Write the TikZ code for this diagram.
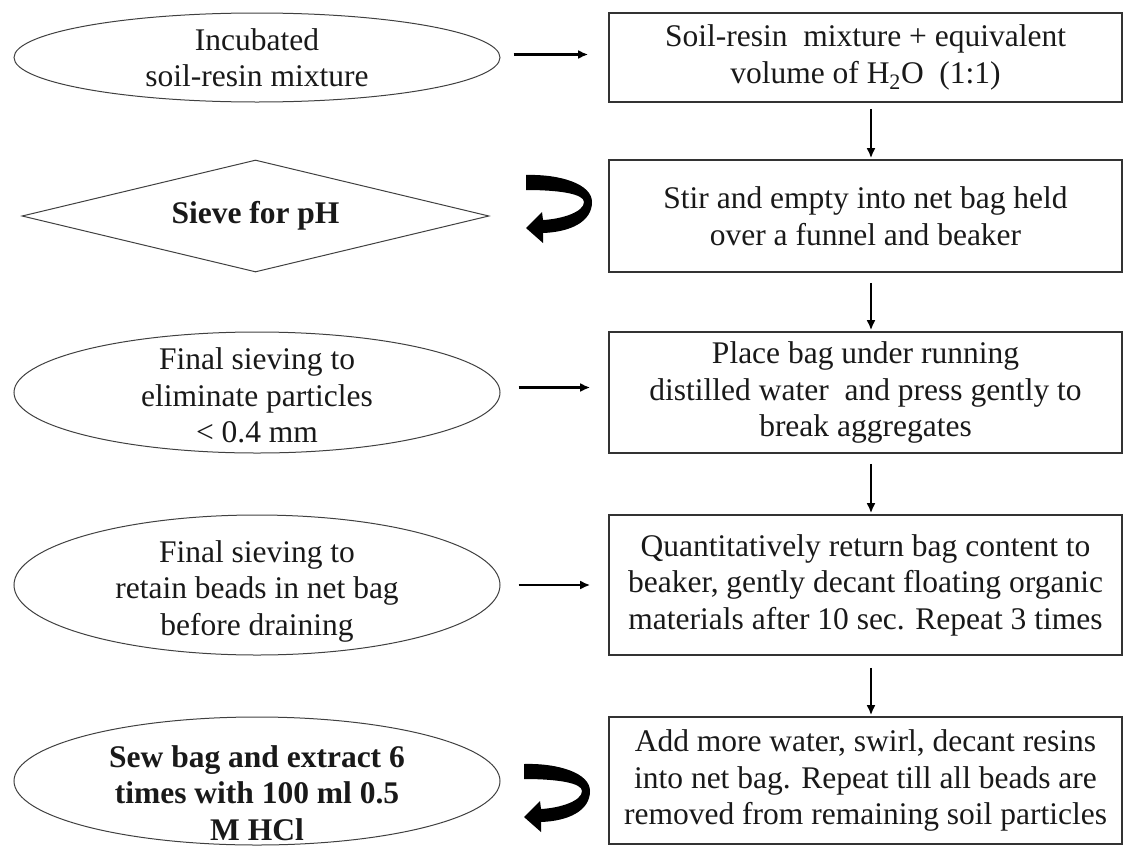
\documentclass[tikz,border=0pt]{standalone}
\usepackage{fontspec}
\setmainfont{Liberation Serif}
\usetikzlibrary{shapes.geometric,arrows.meta}
\begin{document}
\begin{tikzpicture}[x=1pt,y=-1pt,
  every node/.style={font=\fontsize{31.5}{36.5}\selectfont, align=center, text=black!90},
  oval/.style={ellipse, draw=black!75, line width=1pt, minimum width=486pt, inner sep=0pt},
  stepbox/.style={rectangle, draw=black!80, line width=1.6pt, minimum width=513pt, inner sep=0pt},
  rhomb/.style={diamond, draw=black!75, line width=1pt, inner sep=0pt, minimum width=467pt, minimum height=112pt},
  lbl/.style={inner sep=0pt},
  arr/.style={line width=2.4pt, -{Latex[length=10pt,width=9pt]}},
  turn/.style={fill=black}
]
\useasboundingbox (0,0) rectangle (1124,846);

% left column shapes
\node[oval, minimum height=89pt]  (e1) at (257,57.5) {};
\node[lbl] (t1) at (e1) {Incubated\\soil-resin mixture};
\node[rhomb] (d2) at (255.5,216) {};
\node[lbl] (t2) at (d2) {\bfseries Sieve for pH};
\node[oval, minimum height=121pt] (e3) at (257,392.5) {};
\node[lbl] (t3) at ([yshift=-3pt]e3.center) {Final sieving to\\eliminate particles\\< 0.4 mm};
\node[oval, minimum height=140pt] (e4) at (257,585) {};
\node[lbl] (t4) at ([yshift=-6pt]e4.center) {Final sieving to\\retain beads in net bag\\before draining};
\node[oval, minimum height=128pt] (e5) at (257,781) {};
\node[lbl] (t5) at ([yshift=-12pt]e5.center) {\bfseries Sew bag and extract 6\\\bfseries times with 100 ml 0.5\\\bfseries M HCl};

% right column boxes
\node[stepbox, minimum height=89pt]  (b1) at (865.5,57.5) {Soil-resin\ \ mixture + equivalent\\volume of H\textsubscript{2}O\ \ (1:1)};
\node[stepbox, minimum height=112pt] (b2) at (865.5,216) {Stir and empty into net bag held\\over a funnel and beaker};
\node[stepbox, minimum height=121pt] (b3) at (865.5,392.5) {Place bag under running\\distilled water\ \ and press gently to\\break aggregates};
\node[stepbox, minimum height=140pt] (b4) at (865.5,585) {Quantitatively return bag content to\\beaker, gently decant floating organic\\materials after 10 sec. Repeat 3 times};
\node[stepbox, minimum height=127pt] (b5) at (865.5,780.5) {Add more water, swirl, decant resins\\into net bag. Repeat till all beads are\\removed from remaining soil particles};

% horizontal arrows
\draw[arr] ([shift={(13,-3)}]e1.east) -- ([shift={(-20,-3)}]b1.west);
\draw[arr] ([shift={(18,-5)}]e3.east) -- ([shift={(-18,-5)}]b3.west);
\draw[arr] ([shift={(18,0)}]e4.east) -- ([shift={(-18,0)}]b4.west);

% vertical arrows
\draw[arr] ([shift={(5.5,6)}]b1.south) -- ([shift={(5.5,-1)}]b2.north);
\draw[arr] ([shift={(5.5,10)}]b2.south) -- ([shift={(5.5,-1)}]b3.north);
\draw[arr] ([shift={(5.5,10)}]b3.south) -- ([shift={(5.5,-1)}]b4.north);
\draw[arr] ([shift={(5.5,12)}]b4.south) -- ([shift={(5.5,-1)}]b5.north);

% curved arrows
\foreach \ox/\oy in {500/160, 498/749}{
  \path[turn, shift={(\ox,\oy)}]
    (26,15) .. controls (60,14) and (92,24) .. (92,42)
    .. controls (92,62) and (70,72) .. (43,73)
    -- (43,83) -- (26,68) -- (42,52) -- (43,60)
    .. controls (62,59) and (84,52) .. (84,42)
    .. controls (84,34) and (60,30) .. (26,30) -- cycle;
}
\end{tikzpicture}
\end{document}
